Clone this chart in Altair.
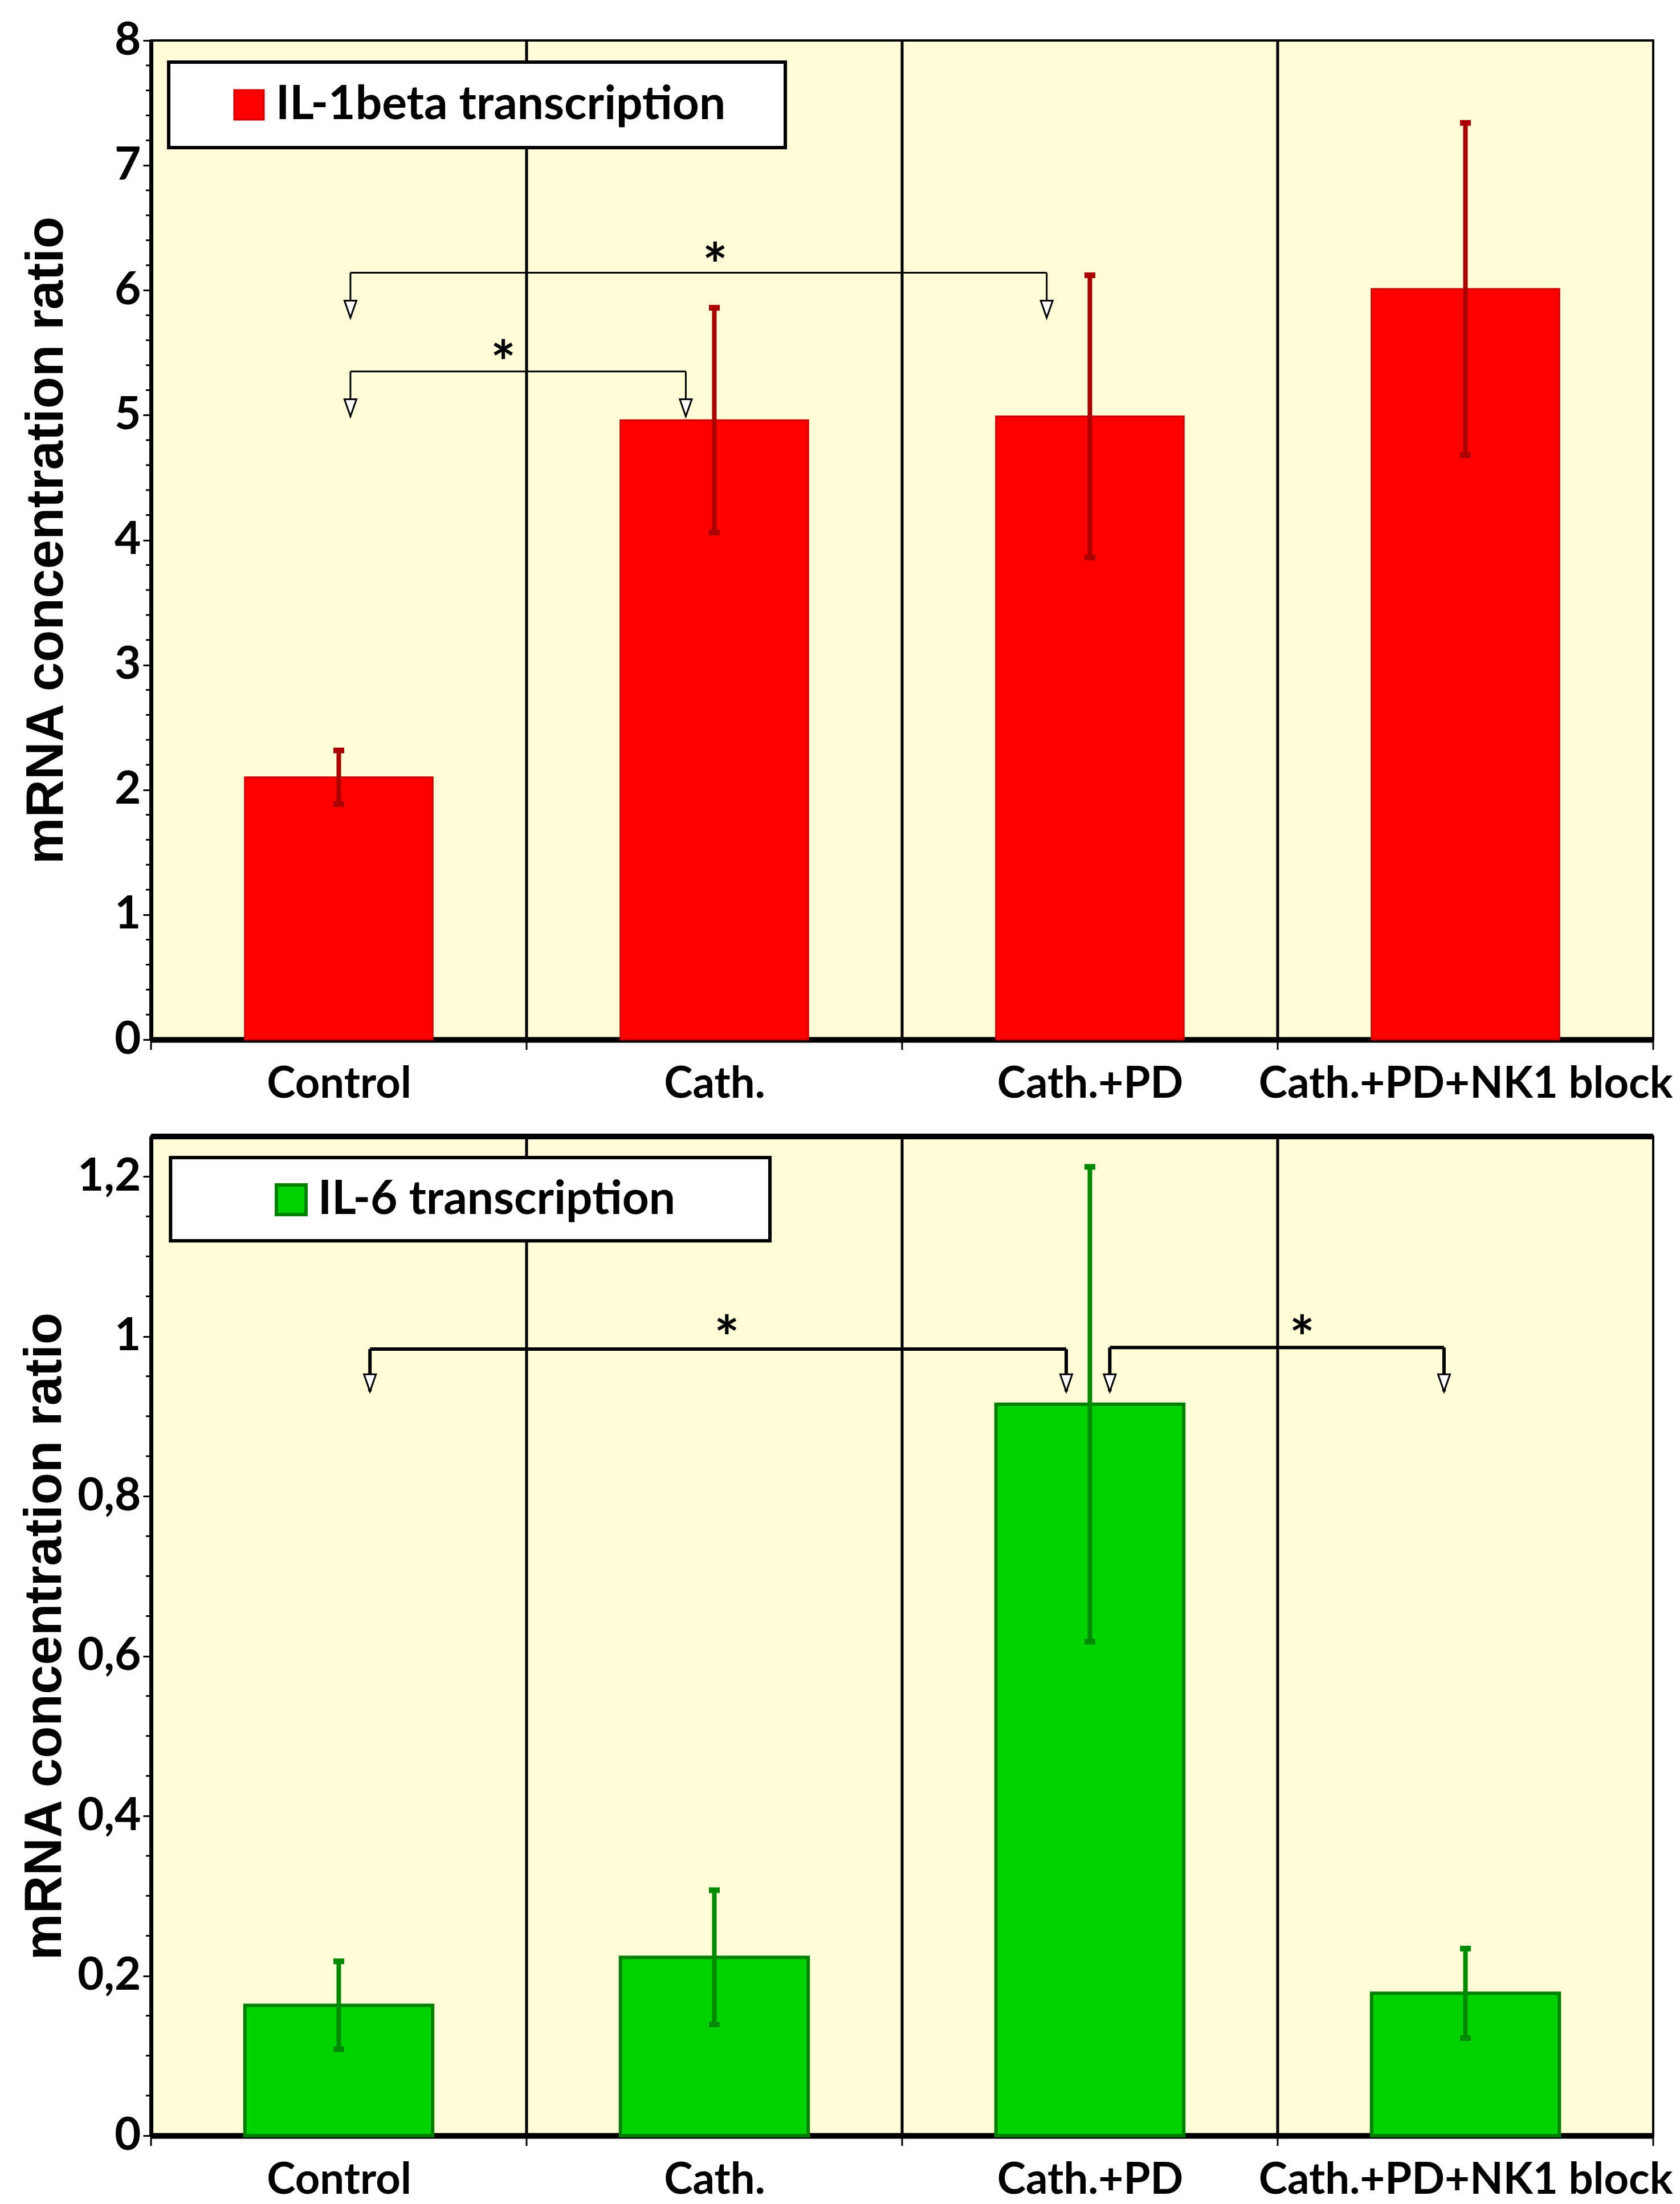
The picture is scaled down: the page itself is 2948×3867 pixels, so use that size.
import altair as alt
import pandas as pd

# ---------------- data ----------------
categories = ["Control", "Cath.", "Cath.+PD", "Cath.+PD+NK1 block"]
cat_index = [0, 1, 2, 3]
boundaries = [0, 1, 2, 3, 4]
separators = [1, 2, 3]

il1b_series = "IL-1beta transcription"
il1b_mean = [2.10, 4.96, 4.99, 6.01]
il1b_err = [0.215, 0.90, 1.13, 1.33]

il6_series = "IL-6 transcription"
il6_mean = [0.163, 0.223, 0.915, 0.178]
il6_err = [0.055, 0.084, 0.297, 0.056]

# significance brackets (x in category units, y in data units)
il1b_br_x1 = [0.531, 0.531]
il1b_br_x2 = [2.385, 1.424]
il1b_br_y = [6.14, 5.35]
il1b_br_tip = [5.78, 4.99]
il1b_star_x = [1.502, 0.938]
il1b_star_y = [6.27, 5.49]

il6_br_x1 = [0.583, 2.553]
il6_br_x2 = [2.437, 3.443]
il6_br_y = [0.984, 0.986]
il6_br_tip = [0.931, 0.931]
il6_star_x = [1.533, 3.065]
il6_star_y = [1.009, 1.009]

# legend frames (x in category units, y in data units)
il1b_box_x = [0.047, 1.689]
il1b_box_y = [7.827, 7.142]
il6_box_x = [0.052, 1.648]
il6_box_y = [1.2236, 1.1195]

il1b_major = [0, 1, 2, 3, 4, 5, 6, 7, 8]
il1b_minor = [round(i * 0.2, 2) for i in range(41) if i % 5 != 0]
il6_major = [0, 0.2, 0.4, 0.6, 0.8, 1, 1.2]
il6_minor = [round(i * 0.05, 2) for i in range(25) if i % 4 != 0]

W, H = 2636, 1753
BG = "#FFFDD8"
LABEL_FONT = "Lato"
TITLE_FONT = "Liberation Sans"

cats_js = "[" + ",".join("'" + c + "'" for c in categories) + "]"


def panel(series, means, errs, fill, stroke, stroke_w, err_color, ymax, major, minor,
          ylabel_expr, title_pad, br_x1, br_x2, br_y, br_tip, star_x, star_y,
          br_w, box_x, box_y, legend_x, legend_y, top_border):
    xs = alt.Scale(domain=[0, 4], nice=False, zero=False)
    ys = alt.Scale(domain=[0, ymax], nice=False)

    df = pd.DataFrame({"idx": cat_index, "cat": categories, "mean": means, "err": errs})
    df["series"] = series
    df["x0"] = df["idx"] + 0.25
    df["x1"] = df["idx"] + 0.75
    df["xc"] = df["idx"] + 0.5
    df["lo"] = df["mean"] - df["err"]
    df["hi"] = df["mean"] + df["err"]

    xaxis = alt.Axis(values=[0.5, 1.5, 2.5, 3.5], labelExpr=cats_js + "[floor(datum.value)]",
                     ticks=False, grid=False, title=None, domainWidth=10, domainColor="black",
                     labelFont=LABEL_FONT, labelFontSize=76, labelFontWeight="bold",
                     labelColor="black", labelPadding=41, labelFlush=False,
                     labelLimit=3000, labelOverlap=False)
    yaxis = alt.Axis(values=major, labelExpr=ylabel_expr, grid=False,
                     tickSize=14, tickWidth=3, tickColor="black",
                     domainWidth=7, domainColor="black",
                     labelFont=LABEL_FONT, labelFontSize=80, labelFontWeight="bold",
                     labelColor="black", labelPadding=4,
                     title="mRNA concentration ratio", titleFont=TITLE_FONT,
                     titleFontSize=92, titleFontWeight="bold", titleColor="black",
                     titlePadding=title_pad)

    bars = alt.Chart(df).mark_bar(stroke=stroke, strokeWidth=stroke_w).encode(
        x=alt.X("x0:Q", scale=xs, axis=xaxis),
        x2="x1:Q",
        y=alt.Y("mean:Q", scale=ys, axis=yaxis),
        y2=alt.datum(0),
        color=alt.Color("series:N", scale=alt.Scale(domain=[series], range=[fill]),
                        legend=alt.Legend(title=None, orient="none", legendX=legend_x,
                                          legendY=legend_y, padding=0,
                                          symbolType="square", symbolSize=2700,
                                          symbolStrokeColor=stroke,
                                          symbolStrokeWidth=stroke_w,
                                          symbolOffset=0, labelOffset=6,
                                          labelFont=LABEL_FONT, labelFontSize=82,
                                          labelFontWeight="bold", labelColor="black",
                                          labelLimit=3000)),
    )

    sep_df = pd.DataFrame({"b": separators})
    seps = alt.Chart(sep_df).mark_rule(color="black", strokeWidth=5).encode(
        x=alt.X("b:Q", scale=xs), y=alt.datum(ymax), y2=alt.datum(0))

    tick_df = pd.DataFrame({"b": boundaries})
    xticks = alt.Chart(tick_df).mark_rule(color="black", strokeWidth=3).encode(
        x=alt.X("b:Q", scale=xs), y=alt.value(H), y2=alt.value(H + 18))

    minor_df = pd.DataFrame({"v": minor})
    yminor = alt.Chart(minor_df).mark_rule(color="black", strokeWidth=3).encode(
        y=alt.Y("v:Q", scale=ys), x=alt.value(-9), x2=alt.value(0))

    box_df = pd.DataFrame({"x1": [box_x[0]], "x2": [box_x[1]], "y1": [box_y[0]], "y2": [box_y[1]]})
    box = alt.Chart(box_df).mark_rect(fill="white", stroke="black", strokeWidth=6).encode(
        x=alt.X("x1:Q", scale=xs), x2="x2:Q", y=alt.Y("y1:Q", scale=ys), y2="y2:Q")

    err_rule = alt.Chart(df).mark_rule(color=err_color, strokeWidth=8).encode(
        x=alt.X("xc:Q", scale=xs), y=alt.Y("lo:Q", scale=ys), y2="hi:Q")
    cap_hi = alt.Chart(df).mark_tick(color=err_color, orient="horizontal", size=19,
                                     thickness=10, opacity=1).encode(
        x=alt.X("xc:Q", scale=xs), y=alt.Y("hi:Q", scale=ys))
    cap_lo = alt.Chart(df).mark_tick(color=err_color, orient="horizontal", size=19,
                                     thickness=10, opacity=1).encode(
        x=alt.X("xc:Q", scale=xs), y=alt.Y("lo:Q", scale=ys))

    br_df = pd.DataFrame({"x1": br_x1, "x2": br_x2, "y": br_y, "tip": br_tip})
    br_h = alt.Chart(br_df).mark_rule(color="black", strokeWidth=br_w).encode(
        x=alt.X("x1:Q", scale=xs), x2="x2:Q", y=alt.Y("y:Q", scale=ys))
    ends_df = pd.DataFrame({"x": br_x1 + br_x2, "y": br_y + br_y, "tip": br_tip + br_tip})
    br_v = alt.Chart(ends_df).mark_rule(color="black", strokeWidth=br_w).encode(
        x=alt.X("x:Q", scale=xs), y=alt.Y("y:Q", scale=ys), y2="tip:Q")
    arrows = alt.Chart(ends_df).mark_point(shape="M-0.7,-2L0.7,-2L0,0Z", filled=True,
                                           fill="white", stroke="black", strokeWidth=3,
                                           size=900, opacity=1).encode(
        x=alt.X("x:Q", scale=xs), y=alt.Y("tip:Q", scale=ys))
    star_df = pd.DataFrame({"x": star_x, "y": star_y, "t": ["*"] * len(star_x)})
    stars = alt.Chart(star_df).mark_text(font=LABEL_FONT, fontSize=104, fontWeight="bold",
                                         color="black", baseline="middle", dy=21).encode(
        x=alt.X("x:Q", scale=xs), y=alt.Y("y:Q", scale=ys), text="t:N")

    layers = [bars, seps, xticks, yminor, box, err_rule, cap_hi, cap_lo, br_h, br_v, arrows, stars]
    if top_border:
        tb = alt.Chart(tick_df.head(1)).mark_rule(color="black", strokeWidth=10).encode(
            x=alt.datum(0), x2=alt.datum(4), y=alt.datum(ymax))
        layers.append(tb)
    return alt.layer(*layers).properties(width=W, height=H)


top = panel(il1b_series, il1b_mean, il1b_err, "#FF0000", "#D00000", 3, "#AA0000", 8,
            il1b_major, il1b_minor, "toString(datum.value)", 72,
            il1b_br_x1, il1b_br_x2, il1b_br_y, il1b_br_tip, il1b_star_x, il1b_star_y,
            3, il1b_box_x, il1b_box_y, 131, 72, False)

bottom = panel(il6_series, il6_mean, il6_err, "#00D200", "#008000", 6, "#008A00", 1.25,
               il6_major, il6_minor, "replace(toString(datum.value), '.', ',')", 10,
               il6_br_x1, il6_br_x2, il6_br_y, il6_br_tip, il6_star_x, il6_star_y,
               6, il6_box_x, il6_box_y, 205, 70, True)

chart = alt.vconcat(top, bottom, spacing=45).resolve_scale(
    color="independent").resolve_legend(color="independent").properties(
    padding={"left": 22, "top": 21, "right": 0, "bottom": 0}
).configure_view(fill=BG, stroke="black", strokeWidth=4)

chart.save("out.html", embed_options={"renderer": "svg", "actions": False})
